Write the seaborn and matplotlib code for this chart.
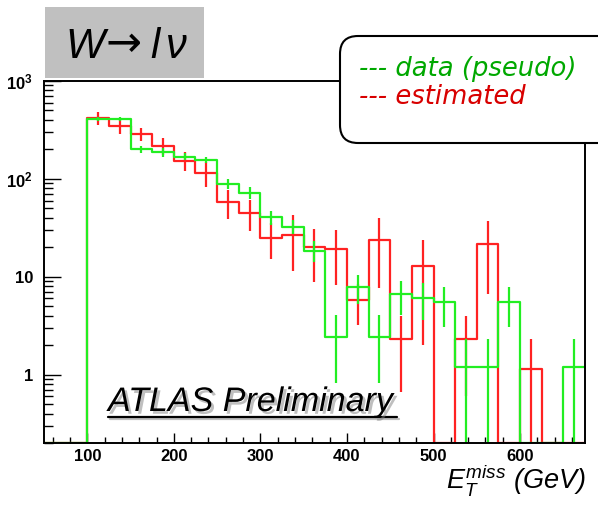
import numpy as np
import pandas as pd
import matplotlib
matplotlib.use("Agg")
import matplotlib.pyplot as plt
import matplotlib.patheffects as pe
from matplotlib.patches import FancyBboxPatch, Rectangle
from matplotlib.lines import Line2D
from matplotlib.transforms import Affine2D
from matplotlib.ticker import FixedLocator, MultipleLocator, LogLocator, NullFormatter
import seaborn as sns

# bins: 25 GeV wide, lower edges from 50 to 650
bin_lo = np.arange(50, 675, 25)
bin_width = 25

# pseudo data (green)
data_pseudo = [0, 0, 408, 407, 201, 187, 169, 156, 89, 72, 40.6, 32.6, 18.5,
               2.43, 7.85, 2.43, 6.6, 6.1, 5.47, 1.2, 1.2, 5.47, 0, 0, 1.2]
data_err = [0, 0, 21, 21, 18, 18, 13, 12, 11, 10, 6.5, 5, 4.5,
            1.6, 2.6, 1.6, 2.5, 2.5, 2.4, 1.1, 1.1, 2.4, 0, 0, 1.1]

# estimated (red)
estimated = [0, 0, 417, 348, 288, 219, 154, 115, 57.8, 45.3, 25, 27, 19.9,
             19.2, 5.78, 23.7, 2.31, 13, 0, 2.31, 21.7, 0, 1.14, 0, 0]
est_err = [0, 0, 62, 62, 45, 42, 35, 33, 19, 16, 10, 15.5, 11,
           11, 2.6, 16, 1.65, 11, 0, 1.7, 15, 0, 1.17, 0, 0]

y_ticks = [1, 10, 100, 1000]
y_ticklabels = ['1', '10', r'$\mathbf{10^{2}}$', r'$\mathbf{10^{3}}$']

W, H = 598, 505
YMIN, YMAX = 0.2, 1000
GREEN = '#22ee22'
RED = '#ff2222'

sns.set_theme(style="white")
plt.rcParams['font.family'] = ['Liberation Sans', 'DejaVu Sans']
plt.rcParams['mathtext.fontset'] = 'custom'
plt.rcParams['mathtext.rm'] = 'Liberation Sans'
plt.rcParams['mathtext.it'] = 'Liberation Sans:italic'
plt.rcParams['mathtext.bf'] = 'Liberation Sans:bold'

centers = bin_lo + bin_width / 2
df = pd.DataFrame({
    'center': centers,
    'data': np.array(data_pseudo, dtype=float),
    'data_err': np.array(data_err, dtype=float),
    'est': np.array(estimated, dtype=float),
    'est_err': np.array(est_err, dtype=float),
})
# empty bins are drawn on the bottom of the frame, as ROOT does
df['data_draw'] = df['data'].clip(lower=YMIN)
df['est_draw'] = df['est'].clip(lower=YMIN)
brange = (bin_lo[0], bin_lo[-1] + bin_width)

fig = plt.figure(figsize=(W / 100, H / 100), dpi=100)
ax = fig.add_axes([44 / W, 1 - 443 / H, (585 - 44) / W, (443 - 81) / H])

# estimated histogram + errors
sns.histplot(data=df, x='center', weights='est_draw', binwidth=bin_width, binrange=brange,
             element='step', fill=False, color=RED, linewidth=1.6, ax=ax)
m = df['est'] > 0
ax.errorbar(df.loc[m, 'center'], df.loc[m, 'est'], yerr=df.loc[m, 'est_err'],
            fmt='none', ecolor=RED, elinewidth=1.6, capsize=0)

# pseudo data histogram + errors
sns.histplot(data=df, x='center', weights='data_draw', binwidth=bin_width, binrange=brange,
             element='step', fill=False, color=GREEN, linewidth=1.6, ax=ax)
m = df['data'] > 0
ax.errorbar(df.loc[m, 'center'], df.loc[m, 'data'], yerr=df.loc[m, 'data_err'],
            fmt='none', ecolor=GREEN, elinewidth=1.6, capsize=0)

ax.set_yscale('log', nonpositive='clip')
ax.set_xlim(50, 675)
ax.set_ylim(YMIN, YMAX)
ax.set_xlabel('')
ax.set_ylabel('')

ax.xaxis.set_major_locator(MultipleLocator(100))
ax.xaxis.set_minor_locator(MultipleLocator(20))
ax.yaxis.set_major_locator(FixedLocator(y_ticks))
ax.set_yticklabels(y_ticklabels)
ax.yaxis.set_minor_locator(LogLocator(base=10, subs=np.arange(2, 10)))
ax.yaxis.set_minor_formatter(NullFormatter())

ax.tick_params(axis='both', which='both', direction='in', top=False, right=False,
               bottom=True, left=True, labelsize=12, width=1, color='black',
               labelcolor='black')
ax.tick_params(axis='y', which='major', length=12, pad=8)
ax.tick_params(axis='y', which='minor', length=6.5)
ax.tick_params(axis='x', which='major', length=7.5, pad=4)
ax.tick_params(axis='x', which='minor', length=4.5)
for lab in ax.get_xticklabels() + ax.get_yticklabels():
    lab.set_fontweight('bold')
for sp in ax.spines.values():
    sp.set_color('black')
    sp.set_linewidth(1.4)

# pixel coordinates (origin bottom-left) of the 598x505 canvas
pxT = Affine2D().scale(1 / W, 1 / H) + fig.transFigure

# title box: W -> l nu
fig.patches.append(Rectangle((45, H - 78), 159, 71, facecolor='#c0c0c0',
                             edgecolor='none', transform=pxT, zorder=1))
fig.text(65, H - 58, 'W', transform=pxT, ha='left', va='baseline',
         fontsize=30, style='italic', color='black', zorder=3)
fig.text(106, H - 56, '→', transform=pxT, ha='left', va='baseline',
         fontsize=31, family='DejaVu Sans', color='black', zorder=3)
fig.text(150, H - 58, 'l', transform=pxT, ha='left', va='baseline',
         fontsize=30, style='italic', color='black', zorder=3)
fig.text(166, H - 58, 'ν', transform=pxT, ha='left', va='baseline',
         fontsize=30, style='italic', color='black', zorder=3)

# legend box
fig.patches.append(FancyBboxPatch((340, H - 143), 300, 107,
                                  boxstyle='round,pad=0,rounding_size=18',
                                  facecolor='white', edgecolor='black',
                                  linewidth=1.5, transform=pxT, zorder=2))
fig.text(359, H - 76, '--- data (pseudo)', transform=pxT, ha='left', va='baseline',
         fontsize=18.6, family='DejaVu Sans', style='oblique', color='#00a800', zorder=3)
fig.text(359, H - 104, '--- estimated', transform=pxT, ha='left', va='baseline',
         fontsize=18.6, family='DejaVu Sans', style='oblique', color='#d80000', zorder=3)

# ATLAS Preliminary, underlined with shadow
fig.text(108, H - 411, 'ATLAS Preliminary', transform=pxT, ha='left', va='baseline',
         fontsize=24.5, style='italic', color='black', zorder=3,
         path_effects=[pe.withSimplePatchShadow(offset=(2, -2), shadow_rgbFace='gray', alpha=0.5)])
fig.lines.append(Line2D([108, 397], [H - 417, H - 417], transform=pxT, color='black',
                        linewidth=1.6, zorder=3,
                        path_effects=[pe.SimpleLineShadow(offset=(1.5, -1.5), shadow_color='gray', alpha=0.5),
                                      pe.Normal()]))

# x axis title
fig.text(586, H - 489, r'$E_T^{miss}$ (GeV)', transform=pxT, ha='right', va='baseline',
         fontsize=19.5, style='italic', color='black', zorder=3)

fig.savefig('out.png', dpi=100)
